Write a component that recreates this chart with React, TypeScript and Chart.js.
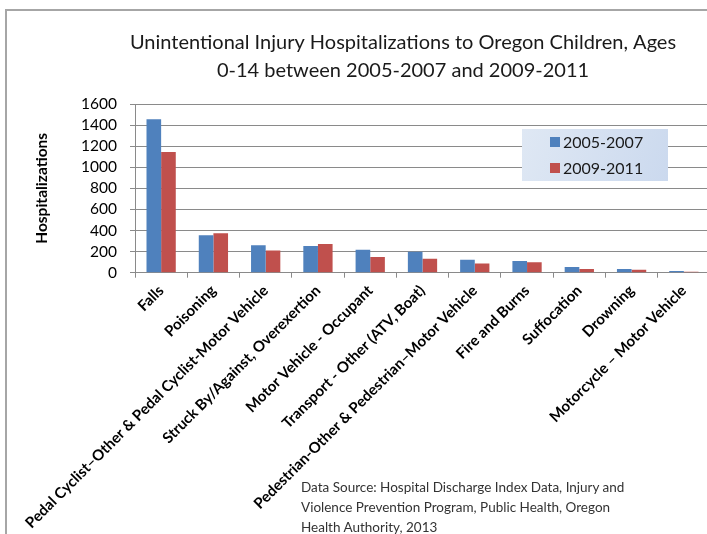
import React, { useEffect, useRef } from "react";
import { Chart, registerables } from "chart.js";

Chart.register(...registerables);

const categories: string[] = [
  "Falls",
  "Poisoning",
  "Pedal Cyclist\u2013Other & Pedal Cyclist-Motor Vehicle",
  "Struck By/Against, Overexertion",
  "Motor Vehicle - Occupant",
  "Transport - Other (ATV, Boat)",
  "Pedestrian-Other & Pedestrian\u2013Motor Vehicle",
  "Fire and Burns",
  "Suffocation",
  "Drowning",
  "Motorcycle \u2013 Motor Vehicle",
];

const series1Label = "2005-2007";
const series1Values: number[] = [1455, 356, 260, 254, 218, 199, 123, 111, 55, 35, 16];

const series2Label = "2009-2011";
const series2Values: number[] = [1145, 375, 211, 273, 150, 133, 87, 98, 35, 29, 10];

const yTickValues: number[] = [0, 200, 400, 600, 800, 1000, 1200, 1400, 1600];

const titleLines: string[] = [
  "Unintentional Injury Hospitalizations to Oregon Children, Ages",
  "0-14 between 2005-2007 and 2009-2011",
];

const yAxisTitle = "Hospitalizations";

const sourceLines: string[] = [
  "Data Source: Hospital Discharge Index Data, Injury and",
  "Violence Prevention Program, Public Health, Oregon",
  "Health Authority, 2013",
];

const FONT = "Lato, Carlito, 'Open Sans', sans-serif";
const BLUE = "#4F81BD";
const RED = "#C0504D";
const GRID = "#8a8a8a";

const legendPlugin = {
  id: "boxLegend",
  afterDraw(chart: any) {
    const ctx = chart.ctx as CanvasRenderingContext2D;
    const x = 522;
    const y = 129;
    const w = 146;
    const h = 52;
    ctx.save();
    const g = ctx.createLinearGradient(x, y, x + w, y + h);
    g.addColorStop(0, "#dfe8f4");
    g.addColorStop(1, "#cbd9ee");
    ctx.fillStyle = g;
    ctx.fillRect(x, y, w, h);
    ctx.font = `16px ${FONT}`;
    ctx.textBaseline = "middle";
    ctx.textAlign = "left";
    chart.data.datasets.forEach((ds: any, i: number) => {
      const cy = y + 13 + i * 26;
      ctx.fillStyle = ds.backgroundColor;
      ctx.fillRect(x + 28, cy - 5, 10, 10);
      ctx.fillStyle = "#1a1a1a";
      ctx.fillText(ds.label, x + 41, cy + 1);
    });
    ctx.restore();
  },
};

export default function App() {
  const canvasRef = useRef<HTMLCanvasElement | null>(null);

  useEffect(() => {
    document.body.style.margin = "0";
    const canvas = canvasRef.current;
    if (!canvas) return;
    const chart = new Chart(canvas, {
      type: "bar",
      data: {
        labels: categories,
        datasets: [
          {
            label: series1Label,
            data: series1Values,
            backgroundColor: BLUE,
            borderWidth: 0,
          },
          {
            label: series2Label,
            data: series2Values,
            backgroundColor: RED,
            borderWidth: 0,
          },
        ],
      },
      options: {
        animation: false,
        responsive: false,
        devicePixelRatio: 1,
        layout: { padding: 0 },
        datasets: {
          bar: { categoryPercentage: 0.56, barPercentage: 1.0 },
        },
        plugins: {
          legend: { display: false },
          tooltip: { enabled: false },
          title: {
            display: true,
            text: titleLines,
            color: "#1a1a1a",
            font: { family: FONT, size: 20, weight: "normal", lineHeight: 1.4 },
            padding: { top: 29, bottom: 19 },
          },
        },
        scales: {
          x: {
            grid: {
              display: true,
              drawOnChartArea: false,
              drawTicks: true,
              tickLength: 5,
              color: GRID,
              offset: true,
            },
            border: { display: true, color: GRID, width: 1 },
            ticks: {
              autoSkip: false,
              maxRotation: 45,
              minRotation: 45,
              padding: 4,
              color: "#000",
              font: { family: FONT, size: 15, weight: "bold" },
            },
            afterFit: (s: any) => {
              s.height = 534 - 272.7;
            },
          },
          y: {
            min: 0,
            max: 1600,
            afterBuildTicks: (s: any) => {
              s.ticks = yTickValues.map((v) => ({ value: v }));
            },
            grid: {
              color: GRID,
              lineWidth: 1,
              tickLength: 5,
              drawTicks: true,
            },
            border: { display: true, color: GRID, width: 1 },
            ticks: {
              autoSkip: false,
              padding: 13,
              color: "#000",
              font: { family: FONT, size: 15.5 },
              callback: (v: any) => String(v),
            },
            title: {
              display: true,
              text: yAxisTitle,
              color: "#000",
              font: { family: FONT, size: 15.5, weight: "bold" },
              padding: { top: 33, bottom: 0 },
            },
            afterFit: (s: any) => {
              s.width = 135;
            },
          },
          spacer: {
            type: "linear",
            position: "right",
            display: true,
            grid: { drawOnChartArea: false, drawTicks: false, display: false },
            border: { display: false },
            ticks: { display: false },
            afterFit: (s: any) => {
              s.width = 96;
            },
          },
        },
      },
      plugins: [legendPlugin],
    });
    return () => chart.destroy();
  }, []);

  return (
    <div
      style={{
        position: "relative",
        width: 707,
        height: 534,
        overflow: "hidden",
        background: "#fff",
      }}
    >
      <canvas
        ref={canvasRef}
        width={806}
        height={534}
        style={{ position: "absolute", left: 0, top: 0, width: 806, height: 534 }}
      />
      <div
        style={{
          position: "absolute",
          left: 5,
          top: 9,
          width: 800,
          height: 600,
          borderTop: "2px solid #a6a6a6",
          borderLeft: "2px solid #a6a6a6",
          pointerEvents: "none",
        }}
      />
      <div
        style={{
          position: "absolute",
          left: 301,
          top: 477,
          fontFamily: FONT,
          fontSize: 13.5,
          lineHeight: "20px",
          color: "#333",
          whiteSpace: "nowrap",
        }}
      >
        {sourceLines.map((l, i) => (
          <div key={i}>{l}</div>
        ))}
      </div>
    </div>
  );
}
